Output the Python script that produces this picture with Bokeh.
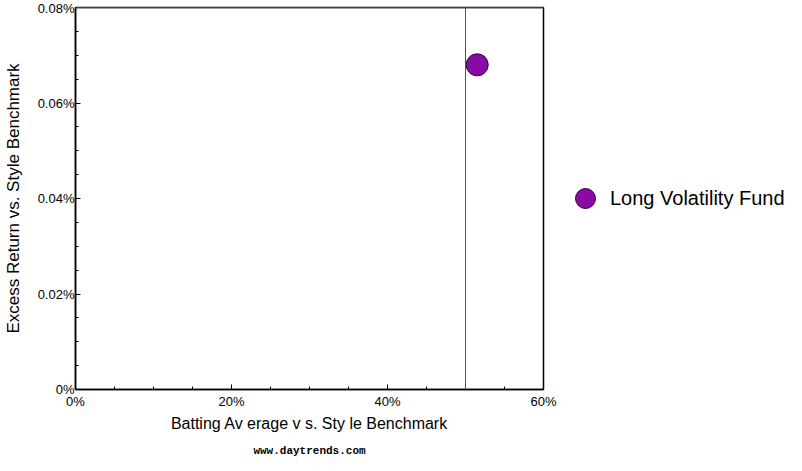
from bokeh.plotting import figure
from bokeh.models import (FixedTicker, CustomJSTickFormatter, Legend, LegendItem,
                          Span, Title, Range1d)
from bokeh.embed import file_html
from bokeh.resources import INLINE

# data
fund_names = ["Long Volatility Fund"]
batting_avg = [51.5]        # % vs style benchmark
excess_return = [0.068]     # % vs style benchmark
x_ticks = [0, 20, 40, 60]
x_minor = [5, 10, 15, 25, 30, 35, 45, 50, 55]
y_ticks = [0, 0.02, 0.04, 0.06, 0.08]
y_minor = [0.005, 0.01, 0.015, 0.025, 0.03, 0.035, 0.045, 0.05, 0.055, 0.065, 0.07, 0.075]
ref_x = 50

FONT = "Liberation Sans"

p = figure(frame_width=468, frame_height=382, output_backend="svg", toolbar_location=None,
           x_range=Range1d(0, 60), y_range=Range1d(0, 0.08),
           min_border_left=73, min_border_top=7, min_border_right=0, min_border_bottom=0)
p.outline_line_color = "black"
p.outline_line_width = 1.5
p.grid.visible = False
p.background_fill_color = "white"

for ax, ticks, minor, fmt in [
    (p.xaxis[0], x_ticks, x_minor, "return tick.toFixed(0) + '%';"),
    (p.yaxis[0], y_ticks, y_minor, "return tick === 0 ? '0%' : tick.toFixed(2) + '%';"),
]:
    ax.ticker = FixedTicker(ticks=ticks, minor_ticks=minor)
    ax.formatter = CustomJSTickFormatter(code=fmt)
    ax.major_tick_in = 5
    ax.major_tick_out = 0
    ax.minor_tick_in = 3
    ax.minor_tick_out = 0
    ax.axis_line_color = "black"
    ax.axis_line_width = 1.5
    ax.major_tick_line_color = "black"
    ax.minor_tick_line_color = "black"
    ax.major_label_text_font = FONT
    ax.major_label_text_font_size = "13px"
    ax.major_label_text_color = "black"
    ax.axis_label_text_font = FONT
    ax.axis_label_text_font_style = "normal"
    ax.axis_label_text_color = "black"

p.xaxis[0].axis_label = "Batting Av erage v s. Sty le Benchmark"
p.yaxis[0].axis_label = "Excess Return vs. Style Benchmark"
p.xaxis[0].axis_label_text_font_size = "16px"
p.yaxis[0].axis_label_text_font_size = "17px"
p.xaxis[0].major_label_standoff = 4
p.xaxis[0].axis_label_standoff = 3
p.yaxis[0].major_label_standoff = 1
p.yaxis[0].axis_label_standoff = 12

# grey top border
p.add_layout(Span(location=0.08, dimension="width", line_color="#808080", line_width=2))
# reference line at 50%
p.add_layout(Span(location=ref_x, dimension="height", line_color="#555555", line_width=1))

r = p.scatter(batting_avg, excess_return, size=22, marker="circle",
              fill_color="#8B0AA5", line_color="#2a0033", line_width=1)

legend = Legend(items=[LegendItem(label=fund_names[0], renderers=[r])],
                location="left", orientation="vertical",
                border_line_color=None, background_fill_alpha=0,
                label_text_font=FONT, label_text_font_size="20px", label_text_color="black",
                glyph_width=50, glyph_height=50, label_standoff=0,
                padding=0, margin=17, spacing=0)
p.add_layout(legend, "right")

wm = Title(text="www.daytrends.com", align="center", text_font="Liberation Mono",
           text_font_size="11px", text_font_style="bold", text_color="black", standoff=17)
p.add_layout(wm, "below")

open("out.html", "w").write(file_html(p, INLINE))
